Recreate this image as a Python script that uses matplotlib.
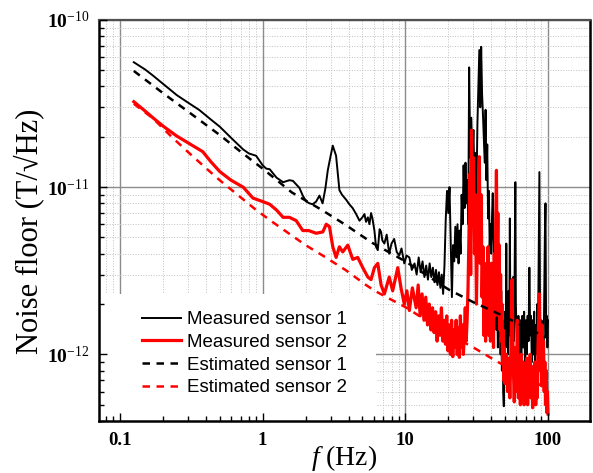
import numpy as np
import matplotlib
matplotlib.use('Agg')
import matplotlib.pyplot as plt
from matplotlib.ticker import NullFormatter
from matplotlib.patches import Rectangle

plt.rcParams['font.family'] = ['Liberation Serif', 'DejaVu Serif']
plt.rcParams['mathtext.fontset'] = 'custom'
plt.rcParams['mathtext.rm'] = 'Liberation Serif'
plt.rcParams['mathtext.it'] = 'Liberation Serif:italic'
plt.rcParams['mathtext.bf'] = 'Liberation Serif:bold'

# noise floor values in pT/sqrt(Hz)
f_meas1 = [0.125, 0.15, 0.17, 0.2, 0.25, 0.3, 0.36, 0.43, 0.5, 0.62,
           0.73, 0.8, 0.9, 1.0, 1.06, 1.12, 1.25, 1.39, 1.54, 1.63,
           1.81, 1.91, 2.02, 2.13, 2.24, 2.37, 2.5, 2.63, 2.75, 2.86,
           3.0, 3.1, 3.27, 3.45, 3.6, 3.85, 4.05, 4.27, 4.52, 4.77,
           5.0, 5.17, 5.3, 5.46, 5.6, 5.75, 5.88, 6.07, 6.23, 6.41,
           6.6, 6.76, 6.9, 7.13, 7.4, 7.71, 8.0, 8.35, 8.7, 9.06,
           9.4, 9.83, 10.2, 10.67, 11.1,
           11.6, 12.0, 12.4, 12.8, 13.2, 13.6, 14.0, 14.4, 14.8, 15.2,
           15.6, 16.0, 16.4, 16.8, 17.2, 17.6, 18.0, 18.4, 18.8, 19.2,
           19.6, 20.0, 20.4, 20.8, 21.2, 21.6, 22.0, 22.4, 22.8, 23.2,
           23.6, 24.0, 24.4, 24.8, 25.2, 25.6, 26.0, 26.4, 26.8, 27.2,
           27.6, 28.0, 28.5, 29.0, 29.5, 30.0, 30.5, 31.0, 31.5, 32.0,
           32.5, 33.0, 33.5, 34.0, 34.5, 35.0, 35.5, 36.0, 36.5, 37.0,
           37.5, 38.0, 38.5, 39.0, 39.5, 40.0, 40.5, 41.0, 41.5, 42.0,
           42.5, 43.0, 43.5, 44.0, 44.5, 45.0, 45.5, 46.0, 46.5, 47.0,
           47.5, 48.0, 48.5, 49.0, 49.5, 50.0, 50.5, 51.0, 51.5, 52.0,
           52.5, 53.0, 53.5, 54.0, 54.5, 55.0, 55.5, 56.0, 56.5, 57.0,
           57.5, 58.0, 58.5, 59.0, 59.5, 60, 61, 62, 63, 64,
           65, 66, 67, 68, 69, 70, 71, 72, 73, 74,
           75, 76, 77, 78, 79, 80, 81, 82, 83, 84,
           85, 86, 87, 88, 89, 90, 91, 92, 93, 94,
           95, 96, 97, 98, 99, 100]
meas1 = [55.8, 50.5, 46.5, 41.5, 35.5, 32.0, 28.9, 25.5, 23.0, 19.2,
         16.8, 15.9, 15.4, 13.5, 12.9, 12.8, 11.4, 10.7, 11.0, 10.9,
         9.9, 8.9, 8.2, 8.0, 7.9, 8.2, 8.9, 8.0, 9.8, 12.6,
         15.5, 17.7, 15.4, 9.6, 9.0, 8.4, 7.9, 7.5, 6.9, 6.3,
         6.6, 6.9, 6.2, 6.6, 6.0, 7.0, 6.5, 5.5, 4.4, 4.2,
         5.6, 5.4, 4.8, 4.6, 5.2, 4.0, 4.6, 4.9, 4.1, 3.9,
         4.3, 3.5, 3.9, 3.8, 3.2,
         3.5, 3.0, 3.8, 3.1, 3.6, 2.9, 3.4, 2.8, 3.5, 2.9,
         3.3, 2.7, 3.2, 2.6, 3.1, 2.5, 3.0, 2.3, 3.4, 6.5,
         9.5, 7.0, 10.0, 4.5, 2.2, 4.5, 3.6, 5.8, 3.8, 6.0,
         3.5, 5.5, 4.0, 9.0, 6.0, 13.5, 7.5, 14.0, 8.0, 11.0,
         6.0, 52.0, 15.0, 26.0, 14.0, 22.0, 11.0, 16.0, 9.0, 24.0,
         40.0, 66.0, 30.0, 69.0, 36.0, 27.0, 19.0, 14.0, 29.0, 11.0,
         18.0, 6.5, 9.5, 4.4, 6.0, 4.0, 6.6, 9.2, 5.0, 3.2,
         1.8, 2.6, 1.4, 2.2, 1.1, 1.8, 1.3, 2.4, 1.0, 2.4,
         0.8, 1.6, 0.6, 0.49, 1.3, 1.8, 1.1, 4.6, 1.2, 2.0,
         1.0, 2.4, 1.3, 6.5, 1.5, 1.0, 2.4, 1.3, 1.9, 2.9,
         1.2, 1.6, 4.0, 10.7, 2.0, 1.5, 0.9, 1.7, 1.0, 1.6,
         0.95, 1.7, 1.1, 1.8, 0.9, 1.6, 1.0, 1.7, 1.2, 3.3,
         1.3, 1.7, 0.9, 1.6, 1.0, 1.8, 0.85, 1.5, 1.0, 2.0,
         1.1, 4.0, 12.3, 1.5, 0.9, 1.6, 1.0, 1.5, 0.9, 2.0,
         5.0, 8.0, 1.3, 1.7, 1.1, 1.6]

f_meas2 = [0.125, 0.15, 0.17, 0.2, 0.25, 0.3, 0.38, 0.43, 0.5, 0.6,
           0.73, 0.855, 1.0, 1.12, 1.25, 1.39, 1.54, 1.72, 1.91, 2.1,
           2.37, 2.64, 2.79, 2.94, 3.1, 3.27, 3.45, 3.64, 3.95, 4.28,
           4.64, 5.03, 5.46, 5.75, 6.07, 6.41, 6.76, 7.13, 7.71, 8.15,
           8.85, 9.32, 9.83, 10.25, 10.67, 11.2, 11.9,
           12.3, 12.7, 13.1, 13.5, 13.9, 14.3, 14.7, 15.1, 15.5, 15.9,
           16.3, 16.7, 17.1, 17.5, 17.9, 18.3, 18.7, 19.1, 19.5, 19.9,
           20.3, 20.7, 21.1, 21.5, 21.9, 22.3, 22.7, 23.1, 23.5, 23.9,
           24.3, 24.7, 25.1, 25.5, 25.9, 26.3, 26.7, 27.1, 27.5, 27.9,
           28.3, 28.7, 29.1, 29.5, 30.0, 30.5, 31.0, 31.5, 32.0, 32.5,
           33.0, 33.5, 34.0, 34.5, 35.0, 35.5, 36.0, 36.5, 37.0, 37.5,
           38.0, 38.5, 39.0, 39.5, 40.0, 40.5, 41.0, 41.5, 42.0, 42.5,
           43.0, 43.5, 44.0, 44.5, 45.0, 45.5, 46.0, 46.5, 47.0, 47.5,
           48.0, 48.5, 49.0, 49.5, 50, 51, 52, 53, 54, 55,
           56, 57, 58, 59, 60, 61, 62, 63, 64, 65,
           66, 67, 68, 69, 70, 71, 72, 73, 74, 75,
           76, 77, 78, 79, 80, 81, 82, 83, 84, 85,
           86, 87, 88, 89, 90, 91, 92, 93, 94, 95,
           96, 97, 98, 99, 100]
meas2 = [32.4, 28.5, 26.0, 23.2, 20.2, 18.4, 16.3, 14.3, 12.4, 11.0,
         10.0, 8.6, 8.2, 7.9, 7.3, 6.6, 6.6, 6.3, 5.5, 5.5,
         5.3, 5.4, 6.0, 5.8, 4.4, 3.8, 4.4, 4.1, 4.5, 3.7,
         3.8, 3.3, 2.9, 2.8, 3.3, 3.5, 2.6, 2.3, 2.9, 2.4,
         3.3, 2.5, 2.0, 2.4, 1.83, 2.5, 1.9,
         2.6, 1.7, 2.3, 1.6, 2.2, 1.5, 2.0, 1.4, 1.9, 1.35,
         1.8, 1.2, 1.7, 1.3, 1.9, 1.2, 1.6, 1.15, 1.7, 1.05,
         1.5, 1.0, 1.6, 0.97, 1.4, 1.1, 1.6, 1.0, 1.45, 0.96,
         1.7, 1.1, 1.5, 1.0, 1.3, 1.9, 1.2, 1.6, 2.5, 5.0,
         12.0, 3.0, 21.9, 6.0, 15.0, 4.0, 9.0, 2.0, 5.0, 8.0,
         15.2, 3.5, 9.0, 2.2, 4.4, 1.3, 3.5, 1.2, 2.6, 1.4,
         4.4, 1.3, 3.0, 1.2, 3.5, 1.5, 2.6, 1.1, 4.0, 1.7,
         6.0, 12.6, 3.0, 7.0, 1.7, 4.5, 1.4, 3.0, 1.2, 2.0,
         0.9, 1.4, 0.7, 1.1, 0.67, 1.0, 0.6, 0.95, 0.55, 1.05,
         2.8, 0.9, 0.52, 1.1, 0.6, 1.6, 0.55, 0.85, 0.5, 1.0,
         0.6, 0.9, 0.5, 0.8, 0.55, 0.95, 0.5, 0.85, 0.6, 1.0,
         0.55, 0.8, 0.48, 0.85, 0.52, 0.9, 0.5, 0.75, 0.55, 1.1,
         1.6, 2.3, 0.8, 1.4, 0.65, 1.5, 0.7, 1.2, 0.6, 0.9,
         0.5, 0.8, 0.45, 0.6, 0.44]

f_est1 = [0.125, 0.2, 0.3, 0.5, 0.7, 1.0, 1.6, 2.6, 3.75, 5.85, 10, 20, 30, 45, 70, 100]
est1 = [49.5, 36.5, 28.3, 20.5, 16.3, 12.9, 9.3, 7.3, 6.0, 4.65, 3.6, 2.45, 2.05, 1.75, 1.45, 1.25]

f_est2 = [0.125, 0.17, 0.23, 0.3, 0.4, 0.5, 0.7, 0.9, 1.2, 2.0,
          2.7, 3.8, 5.3, 6.1, 10.2, 17.8, 30, 40, 60, 100]
est2 = [31.5, 25.8, 20.0, 16.2, 13.0, 11.0, 8.7, 7.3, 6.1, 4.5,
        3.85, 3.2, 2.6, 2.4, 1.9, 1.4, 1.1, 0.95, 0.78, 0.62]

pT = 1e-12

fig = plt.figure(figsize=(5.93, 4.73), dpi=100)
pos = [0.167, 0.110, 0.828, 0.848]
ax = fig.add_axes(pos)

ax.plot(f_meas1, np.array(meas1) * pT, color='black', lw=1.4, label='Measured sensor 1', zorder=3)
ax.plot(f_meas2, np.array(meas2) * pT, color='#ff0000', lw=2.3, label='Measured sensor 2', zorder=3.1)
ax.plot(f_est1, np.array(est1) * pT, color='black', ls='--', dashes=(3, 2.6), lw=1.8,
        label='Estimated sensor 1', zorder=4)
ax.plot(f_est2, np.array(est2) * pT, color='#ff0000', ls='--', dashes=(3, 2.6), lw=1.8,
        label='Estimated sensor 2', zorder=4)

ax.set_xscale('log')
ax.set_yscale('log')
ax.set_xlim(0.0713, 197)
ax.set_ylim(4e-13, 1e-10)

ax.set_axisbelow(True)
ax.grid(which='major', color='#8c8c8c', lw=1.0, ls='-')
ax.grid(which='minor', color='#c0c0c0', lw=0.7, ls=':')

# white area behind the legend hides the grid
ax.add_patch(Rectangle((0, 0), 0.565, 0.317, transform=ax.transAxes,
                       facecolor='white', edgecolor='none', zorder=1))

ax.set_xticks([0.1, 1, 10, 100])
ax.set_xticklabels(['0.1', '1', '10', '100'], fontweight='bold', fontsize=13.5)
ax.set_yticks([1e-12, 1e-11, 1e-10])
ax.set_yticklabels([r'$\mathbf{10}^{\mathrm{-12}}$', r'$\mathbf{10}^{\mathrm{-11}}$',
                    r'$\mathbf{10}^{\mathrm{-10}}$'], fontsize=14)
ax.xaxis.set_minor_formatter(NullFormatter())
ax.yaxis.set_minor_formatter(NullFormatter())
ax.tick_params(which='both', length=0)
ax.tick_params(axis='x', pad=8)
ax.tick_params(axis='y', pad=7)

for side in ['left', 'bottom', 'right']:
    ax.spines[side].set_linewidth(1.8)
ax.spines['top'].set_linewidth(1.6)
ax.spines['top'].set_color('#505050')

ax.set_ylabel('Noise floor (T/\u221aHz)', fontsize=22)
ax.yaxis.set_label_coords(-0.112, 0.474)
ax.set_xlabel(r'$\it{f}$ (Hz)', fontsize=20)
ax.xaxis.set_label_coords(0.5, -0.056)

ax.legend(loc='upper left', bbox_to_anchor=(0.087, 0.274), frameon=False,
          prop={'family': 'Liberation Sans', 'size': 13.5},
          handlelength=2.1, handletextpad=0.3, labelspacing=0.3,
          borderpad=0, borderaxespad=0)

# overlay axes only for inward ticks drawn above the legend area
ax2 = fig.add_axes(pos, sharex=ax, sharey=ax)
ax2.patch.set_visible(False)
for s in ax2.spines.values():
    s.set_visible(False)
ax2.tick_params(which='both', direction='in', labelleft=False, labelbottom=False,
                top=False, right=False, width=1.0)
ax2.tick_params(which='major', length=6)
ax2.tick_params(which='minor', length=3.5)

fig.savefig('out.png', dpi=100)
